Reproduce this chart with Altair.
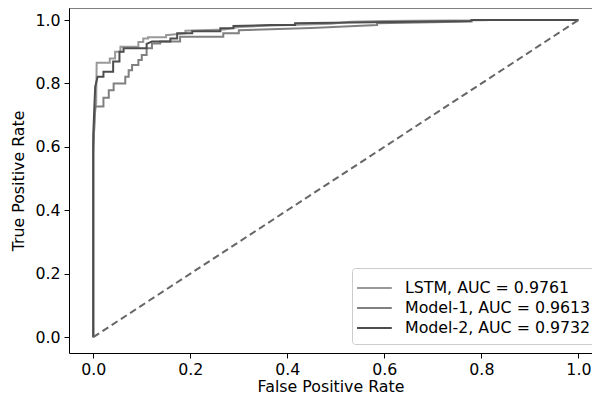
import altair as alt
import pandas as pd

series_names = ["LSTM, AUC = 0.9761", "Model-1, AUC = 0.9613", "Model-2, AUC = 0.9732"]
series_colors = ["#999999", "#808080", "#4d4d4d"]

lstm_fpr = [0.0, 0.0, 0.003, 0.006, 0.007, 0.034, 0.034, 0.045, 0.045, 0.056, 0.056, 0.093, 0.093,
            0.103, 0.103, 0.113, 0.113, 0.15, 0.15, 0.19, 0.19, 0.27, 0.30, 0.37, 0.42, 0.49, 0.53,
            0.6, 0.8, 0.82, 1.0]
lstm_tpr = [0.0, 0.58, 0.70, 0.74, 0.865, 0.865, 0.879, 0.879, 0.90, 0.90, 0.916, 0.916, 0.931,
            0.931, 0.942, 0.942, 0.946, 0.946, 0.952, 0.958, 0.966, 0.970, 0.978, 0.983, 0.985,
            0.988, 0.995, 0.997, 0.999, 1.0, 1.0]

m1_fpr = [0.0, 0.0, 0.004, 0.021, 0.021, 0.032, 0.032, 0.042, 0.042, 0.066, 0.066, 0.073, 0.073,
          0.08, 0.08, 0.093, 0.093, 0.10, 0.10, 0.11, 0.11, 0.121, 0.121, 0.138, 0.138, 0.179,
          0.179, 0.268, 0.268, 0.30, 0.30, 0.45, 0.585, 0.585, 0.78, 0.78, 1.0]
m1_tpr = [0.0, 0.60, 0.727, 0.727, 0.755, 0.755, 0.779, 0.779, 0.80, 0.80, 0.821, 0.821, 0.842,
          0.842, 0.858, 0.858, 0.874, 0.874, 0.89, 0.89, 0.911, 0.911, 0.926, 0.926, 0.932, 0.932,
          0.947, 0.947, 0.958, 0.958, 0.968, 0.975, 0.984, 0.99, 0.995, 1.0, 1.0]

m2_fpr = [0.0, 0.0, 0.002, 0.004, 0.009, 0.021, 0.021, 0.041, 0.041, 0.054, 0.054, 0.0625, 0.0625,
          0.11, 0.11, 0.121, 0.159, 0.159, 0.173, 0.173, 0.204, 0.204, 0.262, 0.262, 0.289, 0.289,
          0.365, 0.416, 0.416, 0.777, 0.78, 1.0]
m2_tpr = [0.0, 0.64, 0.716, 0.79, 0.821, 0.821, 0.837, 0.837, 0.869, 0.869, 0.90, 0.90, 0.911,
          0.911, 0.925, 0.932, 0.932, 0.942, 0.942, 0.958, 0.958, 0.965, 0.965, 0.974, 0.974,
          0.981, 0.984, 0.984, 0.99, 0.997, 1.0, 1.0]

diag_x = [0.0, 1.0]
diag_y = [0.0, 1.0]

tick_values = [0.0, 0.2, 0.4, 0.6, 0.8, 1.0]

rows = []
for name, fx, ty in zip(series_names, [lstm_fpr, m1_fpr, m2_fpr], [lstm_tpr, m1_tpr, m2_tpr]):
    for i, (a, b) in enumerate(zip(fx, ty)):
        rows.append({"series": name, "fpr": a, "tpr": b, "idx": i})
df = pd.DataFrame(rows)
diag = pd.DataFrame({"fpr": diag_x, "tpr": diag_y})

W, H = 523, 345
FS = 15.8
x_scale = alt.Scale(domain=[-0.05, 1.028], nice=False, zero=False)
y_scale = alt.Scale(domain=[-0.05, 1.038], nice=False, zero=False)
x_axis = alt.Axis(values=tick_values, format=".1f", title="False Positive Rate")
y_axis = alt.Axis(values=tick_values, format=".1f", title="True Positive Rate")

curves = alt.Chart(df).mark_line(strokeWidth=2, interpolate="linear").encode(
    x=alt.X("fpr:Q", scale=x_scale, axis=x_axis),
    y=alt.Y("tpr:Q", scale=y_scale, axis=y_axis),
    color=alt.Color(
        "series:N",
        scale=alt.Scale(domain=series_names, range=series_colors),
        legend=alt.Legend(
            title=None, orient="none", legendX=283, legendY=260,
            symbolType="M-1.36,0H1.8", symbolSize=484, symbolStrokeWidth=2,
            labelFontSize=FS, labelFont="DejaVu Sans", labelColor="black",
            labelLimit=300, labelOffset=21, padding=8, rowPadding=0,
            strokeColor="#cccccc", fillColor="white", cornerRadius=3,
        ),
    ),
    order=alt.Order("idx:Q"),
)

diag_line = alt.Chart(diag).mark_line(color="#666666", strokeWidth=2, strokeDash=[7, 4]).encode(
    x=alt.X("fpr:Q", scale=x_scale, axis=x_axis),
    y=alt.Y("tpr:Q", scale=y_scale, axis=y_axis),
)

top_spine = alt.Chart(pd.DataFrame({"k": [0]})).mark_rule(color="black", strokeWidth=1).encode(
    x=alt.value(0), x2=alt.value(W), y=alt.value(0)
)

chart = alt.layer(curves, diag_line, top_spine).properties(
    width=W, height=H,
    autosize=alt.AutoSizeParams(type="none"),
    padding={"left": 61, "top": 0, "right": 0, "bottom": 44},
).configure_view(stroke=None).configure_axis(
    grid=False, domainColor="black", tickColor="black", labelColor="black", titleColor="black",
    labelFont="DejaVu Sans", titleFont="DejaVu Sans", labelFontSize=FS, titleFontSize=FS,
    titleFontWeight="normal", tickSize=5, domainWidth=1, tickWidth=1, labelPadding=4,
).configure_axisY(titlePadding=8).configure_axisX(titlePadding=3)

chart.save("out.html", embed_options={"renderer": "svg", "actions": False})
